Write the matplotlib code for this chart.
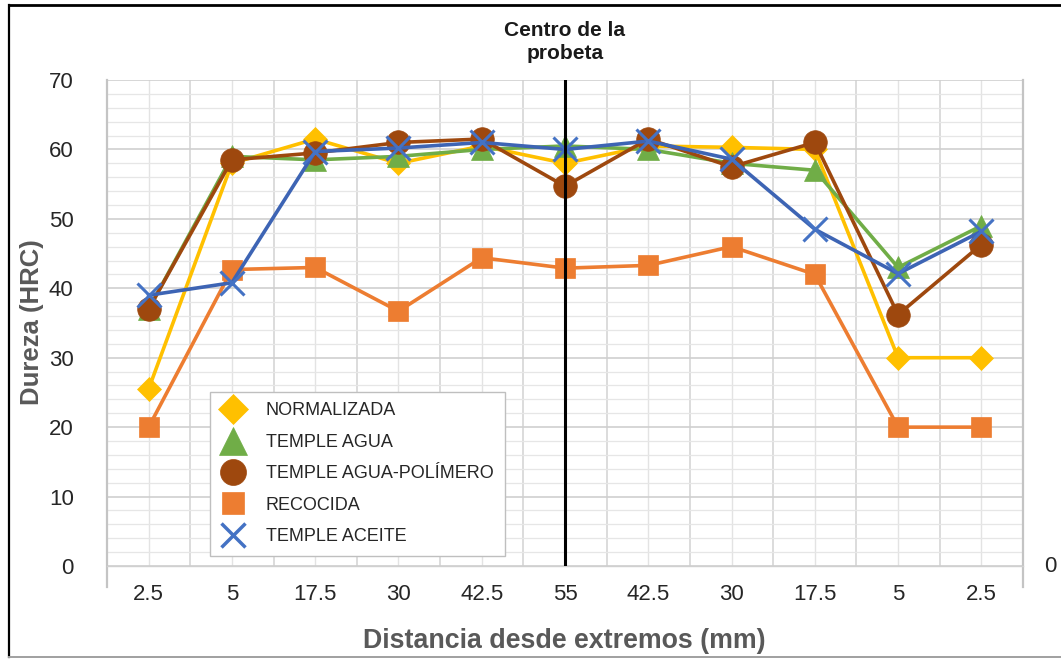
import matplotlib
matplotlib.use("Agg")
import matplotlib.pyplot as plt
from matplotlib.lines import Line2D
from matplotlib.ticker import MultipleLocator, FixedLocator

plt.rcParams["font.family"] = ["Liberation Sans", "DejaVu Sans"]

# Distance from each end of the specimen (mm); 55 is the centre
positions = ["2.5", "5", "17.5", "30", "42.5", "55", "42.5", "30", "17.5", "5", "2.5"]

# Hardness (HRC) per heat treatment
normalizada = [25.5, 58, 61.5, 58, 60.5, 58, 60.5, 60.3, 60, 30, 30]
temple_agua = [37, 59, 58.5, 59, 60, 60.5, 60, 58, 57, 43, 49]
temple_agua_polimero = [37, 58.5, 59.5, 61, 61.5, 54.7, 61.5, 57.5, 61, 36.2, 46.3]
recocida = [20, 42.7, 43, 36.7, 44.4, 42.9, 43.3, 46, 42, 20, 20]
temple_aceite = [39, 40.8, 59.7, 60.2, 61, 60, 61.2, 58.6, 48.5, 42.1, 48.2]

series_names = ["NORMALIZADA", "TEMPLE AGUA", "TEMPLE AGUA-POLÍMERO", "RECOCIDA", "TEMPLE ACEITE"]

W, H = 1061, 660
fig = plt.figure(figsize=(W / 100, H / 100), dpi=100)
fig.patch.set_facecolor("white")

# plot area in pixels: left 107, right 1023, top 80, bottom 566
ax = fig.add_axes([107 / W, (H - 566) / H, 916 / W, 486 / H])

xs = list(range(len(positions)))

styles = [
    # values, name, line colour, marker colour, marker, size, edge width
    (normalizada, series_names[0], "#FFC000", "#FFC000", "D", 12, 0.5),
    (temple_agua, series_names[1], "#70AD47", "#70AD47", "^", 16, 0.5),
    (temple_agua_polimero, series_names[2], "#9E480E", "#9E480E", "o", 17, 0.5),
    (recocida, series_names[3], "#ED7D31", "#ED7D31", "s", 15, 0.5),
    (temple_aceite, series_names[4], "#3D64B4", "#4472C4", "x", 17, 2.2),
]

for i, (vals, name, lc, mc, mk, ms, mew) in enumerate(styles):
    ax.plot(xs, vals, color=lc, lw=2.6, marker=mk, ms=ms, mfc=mc, mec=mc,
            mew=mew, label=name, zorder=3 + i, solid_joinstyle="round")

ax.set_xlim(-0.5, len(positions) - 0.5)
ax.set_ylim(0, 70)

ax.set_xticks(xs)
ax.set_xticklabels(positions)
ax.xaxis.set_minor_locator(FixedLocator([i - 0.5 for i in range(1, len(positions))]))
ax.yaxis.set_major_locator(MultipleLocator(10))
ax.yaxis.set_minor_locator(MultipleLocator(2))

ax.set_axisbelow(True)
ax.grid(which="major", axis="y", color="#CFCFCF", lw=1.2)
ax.grid(which="minor", axis="y", color="#E6E6E6", lw=0.9)
ax.grid(which="major", axis="x", color="#E3E3E3", lw=1.0)
ax.grid(which="minor", axis="x", color="#D2D2D2", lw=1.1)

ax.tick_params(axis="both", which="both", length=0, labelsize=16, labelcolor="#262626")
ax.tick_params(axis="y", pad=24)
ax.tick_params(axis="x", pad=13)

for side in ("top", "left", "right"):
    ax.spines[side].set_visible(False)
ax.spines["bottom"].set_color("#D0D0D0")
ax.spines["bottom"].set_linewidth(1.0)

# side frame lines that run a little below the plot area
for xe in (-0.5, len(positions) - 0.5):
    ax.plot([xe, xe], [70, -3.0], color="#C4C4C4", lw=1.6, clip_on=False, zorder=2)

# centre of the specimen
ax.axvline(5, color="black", lw=2.2, zorder=20)
ax.text(5, 1.078, "Centro de la\nprobeta", transform=ax.get_xaxis_transform(),
        ha="center", va="center", fontsize=15, fontweight="bold",
        color="#1A1A1A", linespacing=1.3)

# axis titles
fig.text(32 / W, 1 - 322 / H, "Dureza (HRC)", rotation=90, ha="center", va="center",
         fontsize=18.5, fontweight="bold", color="#595959")
fig.text(564 / W, 1 - 641 / H, "Distancia desde extremos (mm)", ha="center", va="center",
         fontsize=19.3, fontweight="bold", color="#595959")

# secondary axis zero
fig.text(1050 / W, 1 - 566 / H, "0", ha="center", va="center", fontsize=16, color="#262626")

# legend with enlarged symbols
legend_sizes = [15.3, 19.5, 18.7, 16.5, 17]
handles = []
for (vals, name, lc, mc, mk, ms, mew), lms in zip(styles, legend_sizes):
    handles.append(Line2D([], [], ls="none", marker=mk, ms=lms, mfc=mc, mec=mc,
                          mew=2.5 if mk == "x" else 0.5))
leg = ax.legend(handles, series_names, loc="lower left",
                bbox_to_anchor=(210 / W, (H - 556) / H), bbox_transform=fig.transFigure,
                fontsize=13, frameon=True, fancybox=False, framealpha=1,
                edgecolor="#BFBFBF", borderpad=0.6, handlelength=1.4,
                handletextpad=1.1, labelspacing=0.8, borderaxespad=0)
leg.get_frame().set_linewidth(1.0)
leg.set_zorder(30)
for t in leg.get_texts():
    t.set_color("#262626")

# outer frame
fig.add_artist(Line2D([9 / W, 1.0], [1 - 5 / H, 1 - 5 / H], color="black", lw=2.0,
                      transform=fig.transFigure))
fig.add_artist(Line2D([9 / W, 9 / W], [1 - 5 / H, 1 - 657 / H], color="black", lw=1.6,
                      transform=fig.transFigure))
fig.add_artist(Line2D([9 / W, 1.0], [1 - 657 / H, 1 - 657 / H], color="#A0A0A0", lw=1.4,
                      transform=fig.transFigure))

fig.savefig("out.png", dpi=100)
